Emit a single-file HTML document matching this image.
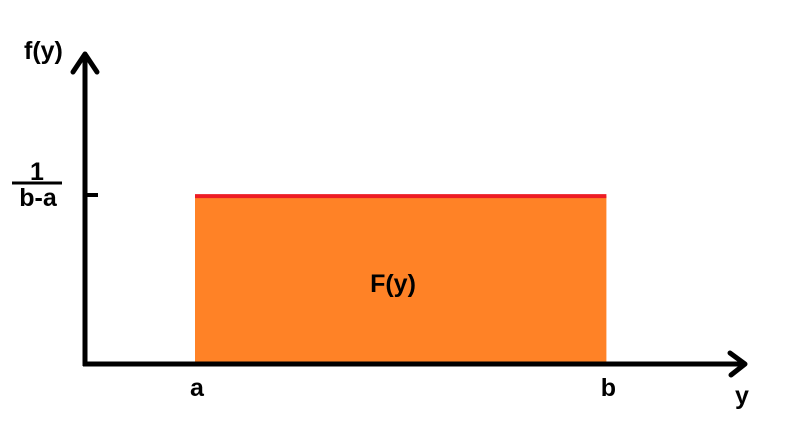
<!DOCTYPE html>
<html><head><meta charset="utf-8"><style>
html,body{margin:0;padding:0;background:#fff}
svg{display:block}
text{font-family:"Liberation Sans",sans-serif;font-weight:bold;fill:#000}
</style></head><body>
<svg id="chart" width="791" height="441" viewBox="0 0 791 441" xmlns="http://www.w3.org/2000/svg">
<g id="marks"></g>
<line x1="85" y1="54" x2="85" y2="366" stroke="#000" stroke-width="5"/>
<polyline points="73,72 85,54 97,72" fill="none" stroke="#000" stroke-width="5" stroke-linecap="round" stroke-linejoin="round"/>
<line x1="83" y1="364" x2="745" y2="364" stroke="#000" stroke-width="5"/>
<polyline points="730,353 745,364 731,375" fill="none" stroke="#000" stroke-width="5" stroke-linecap="round" stroke-linejoin="round"/>
<text x="24" y="59" font-size="25">f(y)</text>
<text x="735" y="404" font-size="25">y</text>
<g>
<text x="37" y="180" font-size="25" text-anchor="middle">1</text>
<line x1="12" y1="183" x2="62" y2="183" stroke="#000" stroke-width="3"/>
<text x="38" y="206" font-size="25" text-anchor="middle">b-a</text>
</g>
<line x1="85" y1="195" x2="98" y2="195" stroke="#000" stroke-width="4"/>
<g id="xlabels"></g>
<text x="393" y="292" font-size="25" text-anchor="middle">F(y)</text>
</svg>
<script>
const xTickLabels = ["a", "b"];
const xBounds = [1, 4.74];
const density = [1];
const xDomain = [0, 6];
const yDomain = [0, 1.87];
const xs = v => 85 + (v - xDomain[0]) / (xDomain[1] - xDomain[0]) * (745 - 85);
const ys = v => 364 - (v - yDomain[0]) / (yDomain[1] - yDomain[0]) * (364 - 50);
const NS = "http://www.w3.org/2000/svg";
const marks = document.getElementById('marks');
const x0 = xs(xBounds[0]), x1 = xs(xBounds[1]), yt = ys(density[0]);
const r = document.createElementNS(NS, 'rect');


r.setAttribute('x', x0); r.setAttribute('y', yt);
r.setAttribute('width', x1 - x0); r.setAttribute('height', 364 - yt);
r.setAttribute('fill', '#FF8226');
marks.appendChild(r);
const l = document.createElementNS(NS, 'line');


l.setAttribute('x1', x0); l.setAttribute('x2', x1);
l.setAttribute('y1', yt); l.setAttribute('y2', yt);
l.setAttribute('stroke', '#ED1C24'); l.setAttribute('stroke-width', '4');
marks.appendChild(l);
const xl = document.getElementById('xlabels');
xBounds.forEach((v, i) => {
  const t = document.createElementNS(NS, 'text');
  
  
  t.setAttribute('x', xs(v) + 2); t.setAttribute('y', 396);
  t.setAttribute('font-size', '25'); t.setAttribute('text-anchor', 'middle');
  t.textContent = xTickLabels[i];
  xl.appendChild(t);
});
</script>
</body></html>
